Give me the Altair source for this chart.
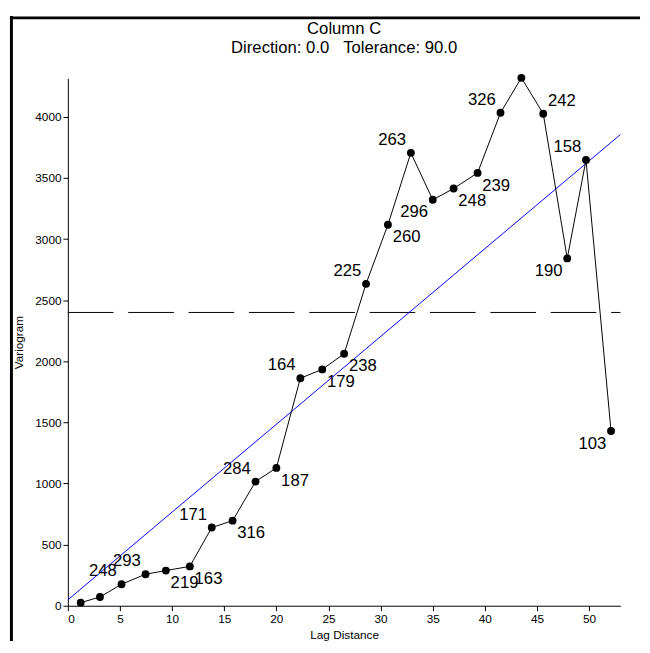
import altair as alt
import pandas as pd

# ---- data ----
lag = [1.23, 3.08, 5.15, 7.45, 9.4, 11.7, 13.8, 15.8, 18.0, 20.0, 22.3, 24.4, 26.5,
       28.6, 30.7, 32.9, 35.0, 37.0, 39.3, 41.5, 43.5, 45.6, 47.9, 49.7, 52.1]
gamma = [25, 72, 176, 258, 288, 322, 640, 696, 1016, 1128, 1862, 1934, 2062,
         2634, 3118, 3706, 3322, 3414, 3542, 4034, 4320, 4026, 2842, 3648, 1430]
pairs = ["", "", "248", "293", "219", "163", "171", "316", "284", "187", "164", "179", "238",
         "225", "260", "263", "296", "248", "239", "326", "", "242", "190", "158", "103"]
side = ["", "", "UL", "UL", "LR", "LR", "UL", "LR", "UL", "LR", "UL", "LR", "LR",
        "UL", "LR", "UL", "LL", "LR", "LR", "UL", "", "UR", "LL", "UL", "LL"]

model_lag = [0, 53]
model_gamma = [48, 3856]
sill = 2400
x_ticks = [0, 5, 10, 15, 20, 25, 30, 35, 40, 45, 50]
y_ticks = [0, 500, 1000, 1500, 2000, 2500, 3000, 3500, 4000]
title_lines = ["Column C", "Direction: 0.0\u00a0\u00a0\u00a0Tolerance: 90.0"]

df = pd.DataFrame({"lag": lag, "gamma": gamma, "pairs": pairs, "side": side})
model_df = pd.DataFrame({"lag": model_lag, "gamma": model_gamma})
sill_df = pd.DataFrame({"lag": [0], "lag2": [53], "gamma": [sill]})

W, H = 642, 637
FONT = "Liberation Sans"
Y0, YTOP = 601, 63.7   # pixel rows of y = 0 and of the top of the y axis

xs = alt.Scale(domain=[0, 53], range=[59, 622], nice=False, zero=False)
ys = alt.Scale(domain=[0, 4315], range=[Y0, YTOP], nice=False, zero=False)

x_axis = alt.Axis(values=x_ticks, orient="bottom", offset=Y0 - H, tickSize=5,
                  labelPadding=3, labelFontSize=12, grid=False, title="Lag Distance",
                  titleFontSize=12, titleY=29, titleBaseline="middle")
y_axis = alt.Axis(values=y_ticks, format="d", orient="left", offset=-59, tickSize=5,
                  labelPadding=2, labelFontSize=12, grid=False, title="Variogram",
                  titleFontSize=12, titleX=-50, titleY=(Y0 + YTOP) / 2, titleAngle=270,
                  titleBaseline="middle", titleAlign="center")

X = alt.X("lag:Q", scale=xs, axis=x_axis)
Y = alt.Y("gamma:Q", scale=ys, axis=y_axis)

frame_df = pd.DataFrame({"f": [0]})
frame_top = alt.Chart(frame_df).mark_rule(color="black", strokeWidth=3).encode(
    x=alt.value(0), x2=alt.value(W), y=alt.value(2))
frame_left = alt.Chart(frame_df).mark_rule(color="black", strokeWidth=3).encode(
    x=alt.value(1.5), y=alt.value(0), y2=alt.value(H))

sill_rule = alt.Chart(sill_df).mark_rule(color="black", strokeWidth=1, strokeDash=[46.5, 15]).encode(
    x=X, x2="lag2:Q", y=Y)

model_line = alt.Chart(model_df).mark_line(color="#0000ff", strokeWidth=1).encode(x=X, y=Y)

data_line = alt.Chart(df).mark_line(color="black", strokeWidth=1).encode(x=X, y=Y)
points = alt.Chart(df).mark_point(filled=True, shape="circle", size=64, color="black", opacity=1).encode(x=X, y=Y)

offsets = {"UL": (-19, -13), "UR": (19, -13), "LL": (-19, 13), "LR": (19, 13)}
label_layers = []
for key, (dx, dy) in offsets.items():
    label_layers.append(
        alt.Chart(df).transform_filter(alt.datum.side == key).mark_text(
            dx=dx, dy=dy, fontSize=17, font=FONT, baseline="middle", align="center", color="black"
        ).encode(x=X, y=Y, text="pairs:N")
    )

title_df = pd.DataFrame({"t": [title_lines[0]]})
sub_df = pd.DataFrame({"t": [title_lines[1]]})
title1 = alt.Chart(title_df).mark_text(fontSize=17, font=FONT, baseline="alphabetic", align="center",
                                       color="black").encode(
    x=alt.value(340.5), y=alt.value(18.7), text="t:N")
title2 = alt.Chart(sub_df).mark_text(fontSize=17, font=FONT, baseline="alphabetic", align="center",
                                     color="black").encode(
    x=alt.value(340.5), y=alt.value(37.7), text="t:N")

chart = alt.layer(frame_top, frame_left, sill_rule, model_line, data_line, points,
                  *label_layers, title1, title2).properties(
    width=W, height=H, padding=0
).configure_view(stroke=None).configure_axis(
    domainColor="black", tickColor="black", labelColor="black", titleColor="black",
    labelFont=FONT, titleFont=FONT, titleFontWeight="normal", domainWidth=1, tickWidth=1
)

chart.save("out.html", embed_options={"renderer": "svg", "actions": False})
